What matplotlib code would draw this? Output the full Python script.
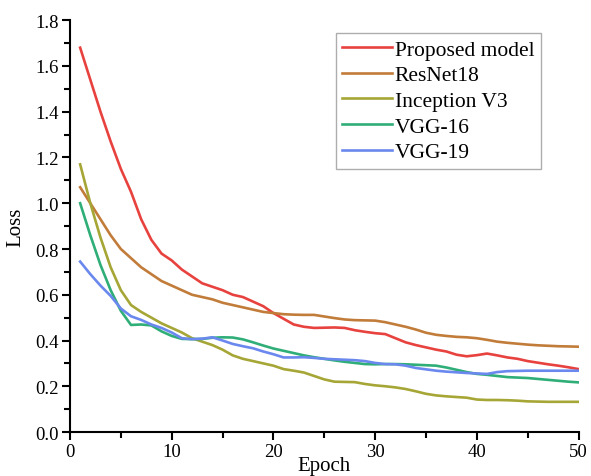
import numpy as np
import matplotlib
matplotlib.use('Agg')
import matplotlib.pyplot as plt
from matplotlib.ticker import MultipleLocator

# 字体设置 (Times 风格)
plt.rcParams['font.family'] = ['Liberation Serif', 'DejaVu Serif']
plt.rcParams['mathtext.fontset'] = 'stix'

epochs = list(range(1, 51))

proposed = [1.68, 1.54, 1.40, 1.27, 1.15, 1.05, 0.93, 0.84, 0.78, 0.75,
            0.71, 0.68, 0.65, 0.635, 0.62, 0.60, 0.59, 0.57, 0.55, 0.52,
            0.495, 0.47, 0.46, 0.455, 0.456, 0.457, 0.455, 0.445, 0.438, 0.432,
            0.428, 0.41, 0.392, 0.38, 0.37, 0.36, 0.352, 0.338, 0.331, 0.336,
            0.343, 0.335, 0.326, 0.32, 0.31, 0.303, 0.296, 0.29, 0.283, 0.275]

resnet18 = [1.07, 1.00, 0.93, 0.86, 0.80, 0.76, 0.72, 0.69, 0.66, 0.64,
            0.62, 0.60, 0.59, 0.58, 0.565, 0.555, 0.545, 0.535, 0.525, 0.52,
            0.515, 0.513, 0.512, 0.512, 0.505, 0.498, 0.492, 0.489, 0.488, 0.487,
            0.48, 0.47, 0.46, 0.448, 0.434, 0.425, 0.42, 0.416, 0.414, 0.41,
            0.403, 0.395, 0.39, 0.386, 0.382, 0.379, 0.377, 0.375, 0.374, 0.373]

inception_v3 = [1.17, 1.00, 0.85, 0.72, 0.62, 0.555, 0.525, 0.50, 0.475, 0.455,
                0.435, 0.41, 0.395, 0.38, 0.36, 0.335, 0.32, 0.31, 0.30, 0.29,
                0.275, 0.268, 0.26, 0.245, 0.23, 0.22, 0.219, 0.218, 0.21, 0.204,
                0.2, 0.195, 0.188, 0.178, 0.167, 0.16, 0.156, 0.153, 0.15, 0.142,
                0.14, 0.14, 0.139, 0.137, 0.134, 0.133, 0.132, 0.132, 0.132, 0.132]

vgg16 = [1.00, 0.86, 0.73, 0.62, 0.53, 0.468, 0.47, 0.466, 0.44, 0.42,
         0.407, 0.406, 0.407, 0.412, 0.414, 0.413, 0.405, 0.392, 0.378, 0.365,
         0.355, 0.345, 0.335, 0.327, 0.32, 0.313, 0.307, 0.302, 0.297, 0.296,
         0.297, 0.297, 0.296, 0.294, 0.292, 0.29, 0.282, 0.272, 0.262, 0.254,
         0.25, 0.245, 0.24, 0.238, 0.236, 0.232, 0.228, 0.224, 0.22, 0.217]

vgg19 = [0.745, 0.69, 0.64, 0.595, 0.54, 0.506, 0.49, 0.47, 0.455, 0.435,
         0.41, 0.406, 0.408, 0.414, 0.40, 0.385, 0.375, 0.366, 0.352, 0.34,
         0.326, 0.326, 0.327, 0.324, 0.32, 0.318, 0.316, 0.314, 0.31, 0.302,
         0.297, 0.296, 0.29, 0.28, 0.274, 0.268, 0.264, 0.261, 0.258, 0.256,
         0.254, 0.262, 0.266, 0.267, 0.268, 0.268, 0.268, 0.268, 0.268, 0.268]

labels = ['Proposed model', 'ResNet18', 'Inception V3', 'VGG-16', 'VGG-19']
colors = ['#e8423f', '#c27c3a', '#a6a636', '#2fae78', '#6a88ee']
series = [proposed, resnet18, inception_v3, vgg16, vgg19]

fig = plt.figure(figsize=(5.91, 4.77), dpi=100)
ax = fig.add_axes([0.1184, 0.0922, 0.8606, 0.8633])

for y, c, lab in zip(series, colors, labels):
    ax.plot(epochs, y, color=c, linewidth=1.9, label=lab)

ax.set_xlim(0, 50)
ax.set_ylim(0, 1.8)
ax.xaxis.set_major_locator(MultipleLocator(10))
ax.xaxis.set_minor_locator(MultipleLocator(5))
ax.yaxis.set_major_locator(MultipleLocator(0.2))
ax.yaxis.set_minor_locator(MultipleLocator(0.1))
ax.yaxis.set_major_formatter(plt.FormatStrFormatter('%.1f'))

ax.spines['top'].set_visible(False)
ax.spines['right'].set_visible(False)
for s in ['left', 'bottom']:
    ax.spines[s].set_linewidth(1.5)
ax.tick_params(which='major', direction='out', length=6, width=1.5, labelsize=13.5, pad=2)
ax.tick_params(which='minor', direction='out', length=4, width=1.5)

ax.set_xlabel('Epoch', fontsize=15, labelpad=-3)
ax.set_ylabel('Loss', fontsize=15, labelpad=7)

leg = ax.legend(loc='upper right', bbox_to_anchor=(0.926, 0.969), fontsize=15.5,
                frameon=True, fancybox=False, handlelength=2.3, handletextpad=0.15,
                labelspacing=0.26, borderpad=0.3, borderaxespad=0)
leg.get_frame().set_edgecolor('#999999')
leg.get_frame().set_linewidth(1.0)

fig.savefig('out.png', dpi=100)
